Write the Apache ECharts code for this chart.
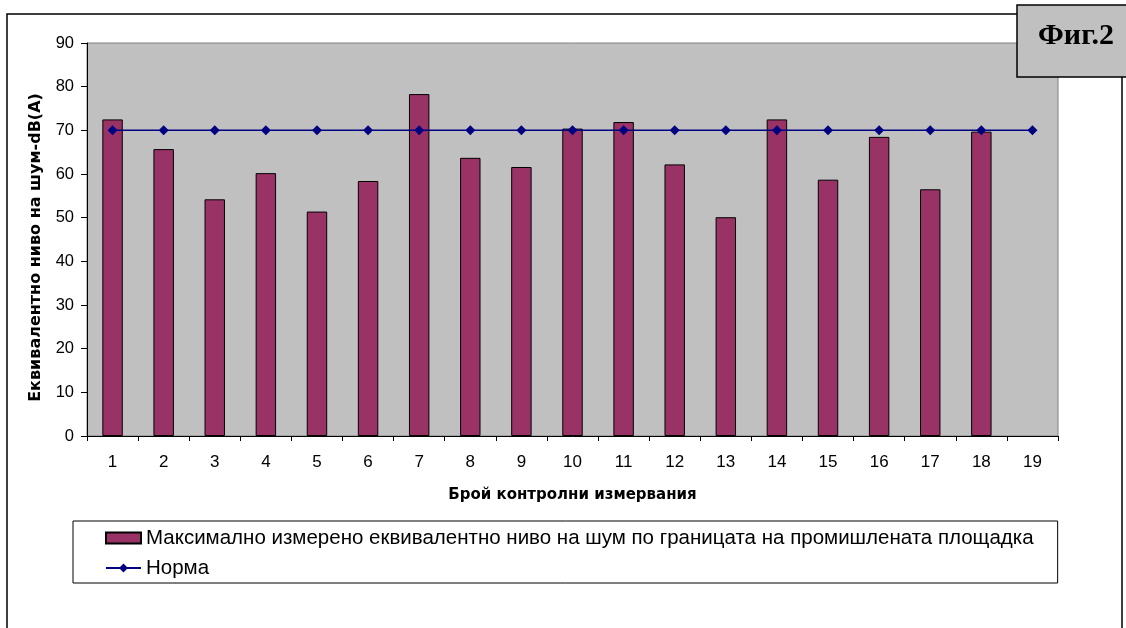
<!DOCTYPE html>
<html>
<head>
<meta charset="utf-8">
<script src="https://cdn.jsdelivr.net/npm/echarts@6/dist/echarts.min.js"></script>
<style>
html, body { margin: 0; padding: 0; background: #fff; }
#chart { width: 1126px; height: 628px; }
</style>
</head>
<body>
<div id="chart"></div>
<script>
var categories = ['1','2','3','4','5','6','7','8','9','10','11','12','13','14','15','16','17','18','19'];
var measured = [72.5, 65.7, 54.2, 60.2, 51.4, 58.4, 78.3, 63.7, 61.6, 70.4, 71.9, 62.2, 50.1, 72.5, 58.7, 68.5, 56.5, 69.7, null];
var norm = [70, 70, 70, 70, 70, 70, 70, 70, 70, 70, 70, 70, 70, 70, 70, 70, 70, 70, 70];
var measuredName = 'Максимално измерено еквивалентно ниво на шум по границата на промишлената площадка';
var normName = 'Норма';

var chart = echarts.init(document.getElementById('chart'));
var fontFam = 'Liberation Sans, Arial, sans-serif';
var nameFam = 'DejaVu Sans, Liberation Sans, sans-serif';

var option = {
	animation: false,
	backgroundColor: '#fff',
	textStyle: { fontFamily: fontFam, color: '#000' },
	grid: {
		left: 87, top: 43, right: 68, bottom: 192,
		show: true,
		backgroundColor: '#c0c0c0',
		borderColor: '#808080',
		borderWidth: 1
	},
	legend: {
		orient: 'vertical',
		left: 73, top: 521,
		itemGap: 6,
		itemWidth: 35, itemHeight: 11,
		padding: [5, 24, 3, 32],
		borderColor: '#000', borderWidth: 1,
		backgroundColor: '#fff',
		textStyle: { fontSize: 20.5, lineHeight: 24, color: '#000', fontFamily: fontFam },
		data: [
			{ name: measuredName, icon: 'rect' },
			{ name: normName }
		]
	},
	xAxis: {
		type: 'category',
		data: categories,
		name: 'Брой контролни измервания',
		nameLocation: 'middle',
		nameGap: 52,
		nameTextStyle: { fontSize: 15, fontWeight: 'bold', color: '#000', fontFamily: nameFam },
		axisLine: { lineStyle: { color: '#000', width: 1 } },
		axisTick: { show: true, length: 5, lineStyle: { color: '#000' } },
		axisLabel: { fontSize: 17, color: '#000', margin: 18 }
	},
	yAxis: {
		type: 'value',
		min: 0, max: 90, interval: 10,
		name: 'Еквивалентно ниво на шум-dB(A)',
		nameLocation: 'middle',
		nameGap: 43,
		nameTextStyle: { fontSize: 16, fontWeight: 'bold', color: '#000', fontFamily: nameFam, padding: [0, 16, 0, 0] },
		axisLine: { show: true, lineStyle: { color: '#000', width: 1 } },
		axisTick: { show: true, length: 6, lineStyle: { color: '#000' } },
		axisLabel: { fontSize: 16.5, color: '#000', margin: 13 },
		splitLine: { show: false }
	},
	series: [
		{
			name: measuredName,
			type: 'bar',
			data: measured,
			barWidth: '40%',
			itemStyle: { color: '#993366', borderColor: '#000', borderWidth: 1 }
		},
		{
			name: normName,
			type: 'line',
			data: norm,
			symbol: 'diamond',
			symbolSize: 10,
			showSymbol: true,
			itemStyle: { color: '#000080' },
			lineStyle: { color: '#000080', width: 1.5 }
		}
	],
	graphic: [
		{
			type: 'rect',
			z: -1,
			shape: { x: 7, y: 14, width: 1115, height: 660 },
			style: { fill: 'none', stroke: '#000', lineWidth: 1.5 }
		},
		{
			type: 'rect',
			z: 10,
			shape: { x: 1017, y: 5, width: 130, height: 72 },
			style: { fill: '#c0c0c0', stroke: '#000', lineWidth: 1.5 }
		},
		{
			type: 'text',
			z: 11,
			x: 1076, y: 36,
			style: {
				text: 'Фиг.2',
				fill: '#000',
				font: 'bold 30px "Liberation Serif", "Times New Roman", serif',
				align: 'center',
				verticalAlign: 'middle'
			}
		}
	]
};
chart.setOption(option);
</script>
</body>
</html>
